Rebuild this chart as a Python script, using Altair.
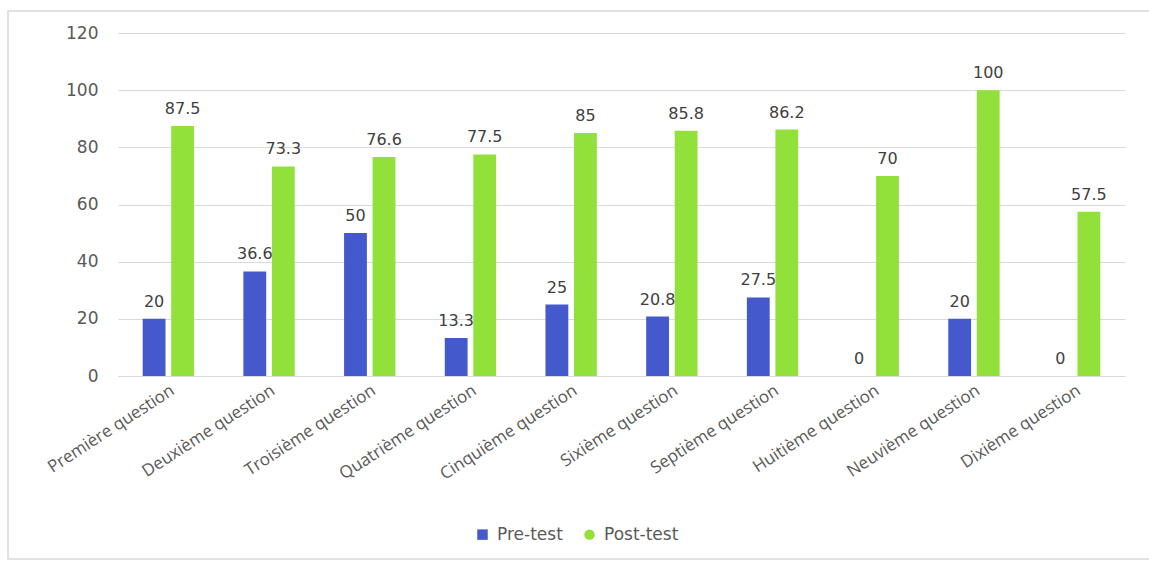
import altair as alt
import pandas as pd

questions = ["Première question", "Deuxième question", "Troisième question",
             "Quatrième question", "Cinquième question", "Sixième question",
             "Septième question", "Huitième question", "Neuvième question",
             "Dixième question"]
pre_test = [20, 36.6, 50, 13.3, 25, 20.8, 27.5, 0, 20, 0]
post_test = [87.5, 73.3, 76.6, 77.5, 85, 85.8, 86.2, 70, 100, 57.5]
series = ["Pre-test", "Post-test"]
colors = ["#4459cc", "#92e03a"]
y_ticks = [0, 20, 40, 60, 80, 100, 120]

rows = []
for q, a, b in zip(questions, pre_test, post_test):
    rows.append({"question": q, "series": series[0], "value": a})
    rows.append({"question": q, "series": series[1], "value": b})
df = pd.DataFrame(rows)

x_enc = alt.X("question:N", sort=questions, title=None,
              scale=alt.Scale(paddingInner=0.49, paddingOuter=0.245),
              axis=alt.Axis(labelAngle=-33, labelFontSize=17, labelFont="Open Sans",
                            labelColor="#595959", ticks=False, domain=True,
                            domainColor="#d9d9d9", labelPadding=6, grid=False))
y_enc = alt.Y("value:Q", title=None,
              scale=alt.Scale(domain=[0, 120], nice=False),
              axis=alt.Axis(values=y_ticks, labelFontSize=17, labelFont="DejaVu Sans",
                            labelColor="#595959", ticks=False, domain=False,
                            gridColor="#d9d9d9", labelPadding=20))
xo = alt.XOffset("series:N", sort=series,
                 scale=alt.Scale(paddingInner=0.2, paddingOuter=0))

leg = alt.Legend(title=None, orient="none", legendX=356, legendY=493,
                 direction="horizontal", labelFontSize=17,
                 labelFont="DejaVu Sans", labelColor="#595959",
                 symbolSize=110, symbolOpacity=1, columnPadding=18, labelOffset=6)
color_enc = alt.Color("series:N", sort=series,
                      scale=alt.Scale(domain=series, range=colors), legend=leg)
shape_enc = alt.Shape("series:N", sort=series,
                      scale=alt.Scale(domain=series, range=["square", "circle"]),
                      legend=leg)

base = alt.Chart(df)

bars = base.mark_bar().encode(x=x_enc, y=y_enc, xOffset=xo, color=color_enc)

labels = base.mark_text(baseline="bottom", dy=-9, fontSize=16, font="DejaVu Sans",
                        color="#404040").encode(
    x=x_enc, y=y_enc, xOffset=xo, text=alt.Text("value:Q"))

legend_pts = base.mark_point(filled=True, opacity=0).encode(
    x=x_enc, y=y_enc, xOffset=xo, color=color_enc, shape=shape_enc)

frame = alt.Chart(pd.DataFrame({"k": [0]})).mark_rect(
    fill=None, stroke="#d9d9d9", strokeWidth=1.5).encode(
    x=alt.value(-110), x2=alt.value(1040), y=alt.value(-22), y2=alt.value(526))

chart = alt.layer(frame, bars, labels, legend_pts).properties(
    width=1007, height=343,
    padding={"left": 118, "top": 33, "right": 24, "bottom": 186},
    autosize=alt.AutoSizeParams(type="none"),
    background="white",
).configure_view(stroke=None)

chart.save("out.html", embed_options={"renderer": "svg", "actions": False})
